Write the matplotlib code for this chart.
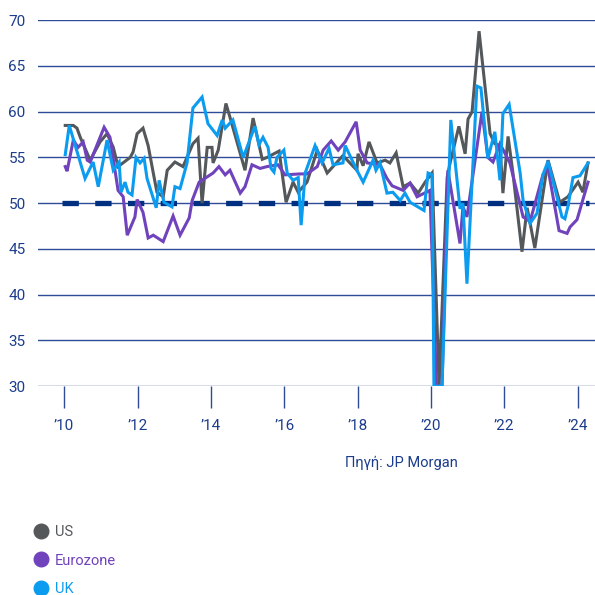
import matplotlib
matplotlib.use('Agg')
import matplotlib.pyplot as plt
from matplotlib.lines import Line2D

# Composite PMI readings (decimal year, index level)
us_year = [2010.03, 2010.25, 2010.35, 2010.44, 2010.71, 2010.98, 2011.17, 2011.34, 2011.47, 2011.80,
           2011.88, 2011.99, 2012.15, 2012.29, 2012.43, 2012.53, 2012.70, 2012.81, 2013.02, 2013.24,
           2013.51, 2013.65, 2013.76, 2013.90, 2014.03, 2014.06, 2014.20, 2014.41, 2014.52, 2014.93,
           2015.15, 2015.40, 2015.53, 2015.86, 2016.05, 2016.24, 2016.38, 2016.62, 2016.90, 2017.17,
           2017.60, 2017.98, 2018.01, 2018.15, 2018.31, 2018.53, 2018.75, 2018.88, 2019.05, 2019.24,
           2019.43, 2019.65, 2019.84, 2020.03, 2020.22, 2020.44, 2020.52, 2020.76, 2020.93, 2021.01,
           2021.12, 2021.31, 2021.61, 2021.74, 2021.88, 2021.96, 2022.10, 2022.23, 2022.48, 2022.62,
           2022.83, 2023.19, 2023.51, 2023.73, 2024.01, 2024.14, 2024.28]
us_val = [58.5, 58.5, 58.2, 57.2, 54.7, 56.7, 57.6, 56.1, 54.0, 55.0,
          55.6, 57.6, 58.2, 56.3, 53.3, 51.2, 50.7, 53.6, 54.5, 54.0,
          56.5, 57.1, 50.0, 56.1, 56.1, 54.4, 55.8, 60.9, 59.4, 53.6,
          59.3, 54.8, 55.0, 55.7, 50.1, 52.3, 51.2, 52.3, 55.8, 53.3,
          55.2, 53.6, 55.4, 54.1, 56.7, 54.4, 54.7, 54.4, 55.5, 51.8,
          52.2, 51.1, 52.3, 53.3, 30.0, 52.8, 54.4, 58.4, 55.4, 59.2,
          60.0, 68.8, 57.6, 56.5, 56.3, 51.1, 57.3, 53.4, 44.7, 49.5,
          45.1, 54.7, 50.1, 50.7, 52.3, 51.2, 54.4]

ez_year = [2010.03, 2010.08, 2010.25, 2010.38, 2010.52, 2010.63, 2010.71, 2011.09, 2011.25, 2011.47,
           2011.61, 2011.72, 2011.93, 2011.99, 2012.15, 2012.29, 2012.43, 2012.70, 2012.97, 2013.16,
           2013.41, 2013.49, 2013.68, 2014.06, 2014.22, 2014.39, 2014.52, 2014.80, 2014.93, 2015.12,
           2015.34, 2015.53, 2015.83, 2016.02, 2016.43, 2016.62, 2016.90, 2017.06, 2017.28, 2017.47,
           2017.66, 2017.96, 2018.07, 2018.26, 2018.61, 2018.80, 2018.94, 2019.24, 2019.43, 2019.62,
           2019.97, 2020.15, 2020.30, 2020.46, 2020.79, 2020.87, 2020.98, 2021.39, 2021.55, 2021.69,
           2021.88, 2022.15, 2022.51, 2022.70, 2023.05, 2023.19, 2023.49, 2023.71, 2023.79, 2023.98,
           2024.28]
ez_val = [54.0, 53.5, 56.9, 56.1, 56.7, 54.7, 54.5, 58.3, 57.2, 51.4,
          50.7, 46.5, 48.5, 50.4, 49.0, 46.2, 46.5, 45.8, 48.6, 46.5,
          48.4, 50.3, 52.3, 53.3, 54.0, 53.1, 53.6, 51.1, 51.8, 54.2,
          53.8, 54.0, 54.2, 53.1, 53.2, 53.2, 54.0, 55.8, 56.8, 55.8,
          56.7, 58.9, 55.8, 54.4, 54.2, 52.7, 51.9, 51.4, 52.2, 50.7,
          51.4, 30.0, 30.0, 53.6, 45.6, 49.6, 48.5, 60.0, 55.0, 54.5,
          56.5, 54.4, 48.5, 48.0, 53.1, 53.8, 47.0, 46.7, 47.4, 48.2,
          52.3]

uk_year = [2010.03, 2010.14, 2010.57, 2010.79, 2010.93, 2011.17, 2011.34, 2011.50, 2011.55, 2011.66,
           2011.74, 2011.85, 2011.96, 2012.07, 2012.18, 2012.26, 2012.51, 2012.59, 2012.72, 2012.94,
           2013.02, 2013.16, 2013.35, 2013.51, 2013.76, 2013.92, 2014.17, 2014.31, 2014.39, 2014.60,
           2014.88, 2015.20, 2015.31, 2015.42, 2015.56, 2015.64, 2015.72, 2015.80, 2015.99, 2016.08,
           2016.24, 2016.38, 2016.46, 2016.57, 2016.84, 2017.03, 2017.22, 2017.33, 2017.60, 2017.66,
           2017.98, 2018.15, 2018.42, 2018.50, 2018.61, 2018.80, 2018.96, 2019.16, 2019.29, 2019.43,
           2019.81, 2019.92, 2020.03, 2020.08, 2020.30, 2020.54, 2020.79, 2020.87, 2020.98, 2021.25,
           2021.36, 2021.55, 2021.74, 2021.88, 2021.96, 2022.13, 2022.43, 2022.51, 2022.70, 2022.89,
           2023.05, 2023.19, 2023.57, 2023.65, 2023.73, 2023.87, 2024.06, 2024.28]
uk_val = [55.3, 58.5, 52.7, 54.5, 51.8, 56.9, 53.6, 54.5, 51.2, 52.3,
          51.2, 50.9, 55.0, 54.4, 54.9, 52.7, 49.5, 52.5, 50.1, 49.6,
          51.8, 51.6, 54.4, 60.4, 61.6, 58.7, 57.4, 59.1, 58.2, 59.1,
          55.0, 58.4, 56.4, 57.2, 56.1, 53.8, 53.4, 55.0, 55.8, 53.3,
          52.5, 52.8, 47.6, 53.3, 56.3, 54.4, 56.0, 54.2, 54.4, 56.3,
          53.6, 52.3, 54.7, 53.6, 54.4, 51.1, 51.2, 50.3, 51.1, 50.1,
          49.2, 53.3, 53.1, 30.0, 30.0, 59.1, 49.4, 50.0, 41.2, 62.8,
          62.6, 54.9, 57.8, 52.5, 59.8, 60.8, 53.3, 50.3, 47.8, 48.9,
          53.1, 54.6, 48.5, 48.3, 49.6, 52.8, 53.0, 54.4]

series = [('US', us_year, us_val, '#54585b'),
          ('Eurozone', ez_year, ez_val, '#7043bd'),
          ('UK', uk_year, uk_val, '#0b9cf0')]

year_ticks = [2010, 2012, 2014, 2016, 2018, 2020, 2022, 2024]
year_labels = ['\u201910', '\u201912', '\u201914', '\u201916', '\u201918', '\u201920', '\u201922', '\u201924']
y_ticks = [30, 35, 40, 45, 50, 55, 60, 65, 70]

navy = '#1c3c8c'
plt.rcParams['font.family'] = ['Roboto', 'DejaVu Sans']

fig = plt.figure(figsize=(5.95, 5.95), dpi=100)
ax = fig.add_axes([0.064, 0.351, 0.936, 0.615])

for y in y_ticks:
    ax.axhline(y, color='#2e4c98', linewidth=1.0, zorder=1)

# expansion / contraction threshold
ax.plot([2009.95, 2024.3], [50, 50], color='#00307f', linewidth=3.8,
        dashes=(3.1, 3.1), solid_capstyle='butt', zorder=2)

for name, xs, ys, c in series:
    ax.plot(xs, ys, color=c, linewidth=2.2, zorder=3, solid_joinstyle='miter')

ax.set_xlim(2009.29, 2024.47)
ax.set_ylim(30, 70)
ax.set_yticks(y_ticks)
ax.set_xticks(year_ticks)
ax.set_xticklabels(year_labels)
for s in ax.spines.values():
    s.set_visible(False)
ax.tick_params(axis='y', length=0, pad=9, labelsize=11, labelcolor=navy)
ax.tick_params(axis='x', direction='out', length=16, width=1, color='#2e4c98',
               pad=8, labelsize=11, labelcolor=navy)

fig.text(0.675, 0.222, 'Πηγή: JP Morgan', ha='center', va='center', fontsize=10.5, color=navy)

handles = [Line2D([], [], marker='o', linestyle='', color=c, markersize=10.5) for _, _, _, c in series]
fig.legend(handles, [n for n, _, _, _ in series], loc='upper left',
           bbox_to_anchor=(0.045, 0.128), frameon=False, fontsize=10.5,
           labelcolor=[c for _, _, _, c in series], handletextpad=0.35,
           labelspacing=1.02, borderaxespad=0, handlelength=1.2)

fig.savefig('out.png', dpi=100)
